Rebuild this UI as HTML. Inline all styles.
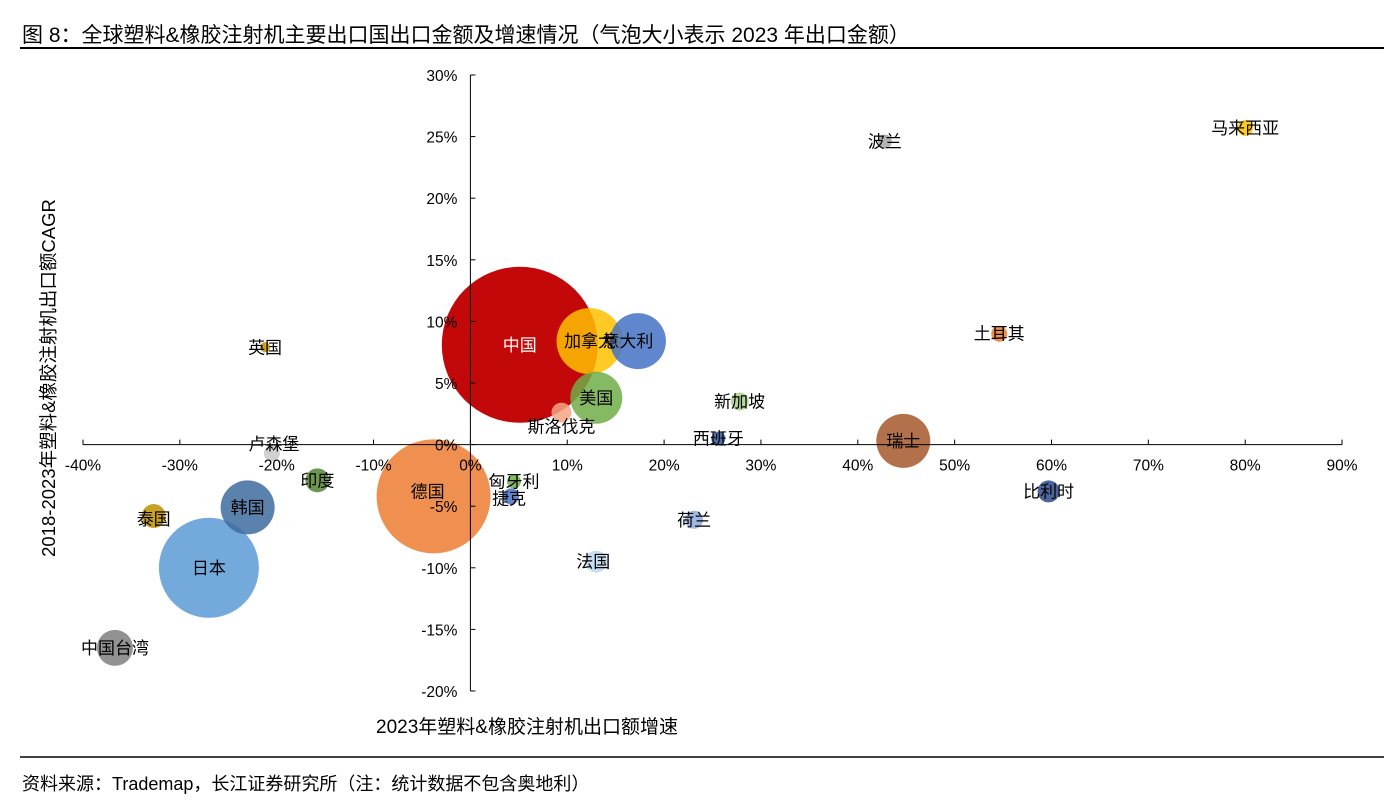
<!DOCTYPE html>
<html><head><meta charset="utf-8"><style>
body{margin:0;background:#fff;font-family:"Liberation Sans","Noto Sans CJK SC",sans-serif;}
svg text{font-family:"Liberation Sans","Noto Sans CJK SC",sans-serif;}
</style></head><body>
<svg id="c" width="1396" height="806" xmlns="http://www.w3.org/2000/svg">
<text x="22" y="42" font-size="21" fill="#000">图  8：全球塑料&amp;橡胶注射机主要出口国出口金额及增速情况（气泡大小表示 2023 年出口金额）</text>
<line x1="20" y1="48" x2="1384" y2="48" stroke="#000" stroke-width="2"/>
<line x1="20" y1="757" x2="1384" y2="757" stroke="#000" stroke-width="1.5"/>
<text x="22" y="790" font-size="18" fill="#000">资料来源：Trademap，长江证券研究所（注：统计数据不包含奥地利）</text>
<text x="527" y="733" font-size="19" text-anchor="middle">2023年塑料&amp;橡胶注射机出口额增速</text>
<text transform="translate(55,378) rotate(-90)" font-size="18.5" text-anchor="middle">2018-2023年塑料&amp;橡胶注射机出口额CAGR</text>
<g id="plot"></g>
</svg>
<script>
const names=["中国","加拿大","意大利","美国","斯洛伐克","德国","日本","韩国","中国台湾","泰国","印度","卢森堡","英国","匈牙利","捷克","荷兰","法国","西班牙","新加坡","瑞士","比利时","土耳其","波兰","马来西亚"];
const growth=[5.1,12.3,17.3,13,9.4,-3.8,-27,-23,-36.7,-32.7,-15.8,-20.5,-21.2,4.5,4.2,23.1,13,25.6,27.8,44.7,59.7,54.6,42.8,80];
const cagr=[8.1,8.4,8.4,3.8,2.6,-4.2,-10,-5.1,-16.5,-5.8,-2.9,-0.7,7.9,-3,-4.2,-6.1,-9.5,0.5,3.5,0.3,-3.8,9,24.6,25.7];
const size=[78,33,28,26,10,57,50,27,18,12,12,8,5,7,8,9,11,7,9,27,11,8,7,8];
const colors=["#c00000","#ffc000","#4472c4","#70ad47","#f4a582","#ed7d31","#5b9bd5","#3e6c9e","#7f7f7f","#bf9000","#548235","#c9c9c9","#bf9000","#70ad47","#4472c4","#8faadc","#bdd7ee","#2f5597","#a9d18e","#a5582a","#2f4a8a","#ed7d31","#a6a6a6","#ffc000"];
const xTicks=[-40,-30,-20,-10,0,10,20,30,40,50,60,70,80,90];
const yTicks=[30,25,20,15,10,5,0,-5,-10,-15,-20];
const X=v=>470.4+v*9.685, Y=v=>444.6-v*12.32;
const ns="http://www.w3.org/2000/svg", g=document.getElementById('plot');
function mk(t,a){const e=document.createElementNS(ns,t);for(const k in a)e.setAttribute(k,a[k]);g.appendChild(e);return e;}
names.forEach((n,i)=>{const c=mk('circle',{cx:X(growth[i]),cy:Y(cagr[i]),r:size[i],fill:colors[i],'fill-opacity':i==0?0.97:0.85});

});
let ax=mk('line',{x1:X(-40),y1:Y(0),x2:X(90),y2:Y(0),stroke:'#000'});


let ay=mk('line',{x1:X(0),y1:Y(30),x2:X(0),y2:Y(-20),stroke:'#000'});


xTicks.forEach(v=>{mk('line',{x1:X(v),x2:X(v),y1:Y(0)-5,y2:Y(0),stroke:'#000'});
const t=mk('text',{x:X(v),y:Y(0)+26,'font-size':15.5,'text-anchor':'middle'});t.textContent=v+'%';

});
yTicks.forEach(v=>{mk('line',{x1:X(0),x2:X(0)+5,y1:Y(v),y2:Y(v),stroke:'#000'});
const t=mk('text',{x:X(0)-13,y:Y(v)+6,'font-size':15.5,'text-anchor':'end'});t.textContent=v+'%';

});
const dx=[0,0,-10,0,0,-6,0,0,0,0,0,2,0,0,-2,0,-3,0,0,0,0,0,0,0], dy=[0,0,0,0,14,-5,0,0,0,3,0,-9,0,0,2,0,0,0,0,0,0,0,0,0];
names.forEach((n,i)=>{const t=mk('text',{x:X(growth[i])+dx[i],y:Y(cagr[i])+6+dy[i],'font-size':17,'text-anchor':'middle',fill:i==0?'#fff':'#000'});t.textContent=n;

});
</script>
</body></html>
